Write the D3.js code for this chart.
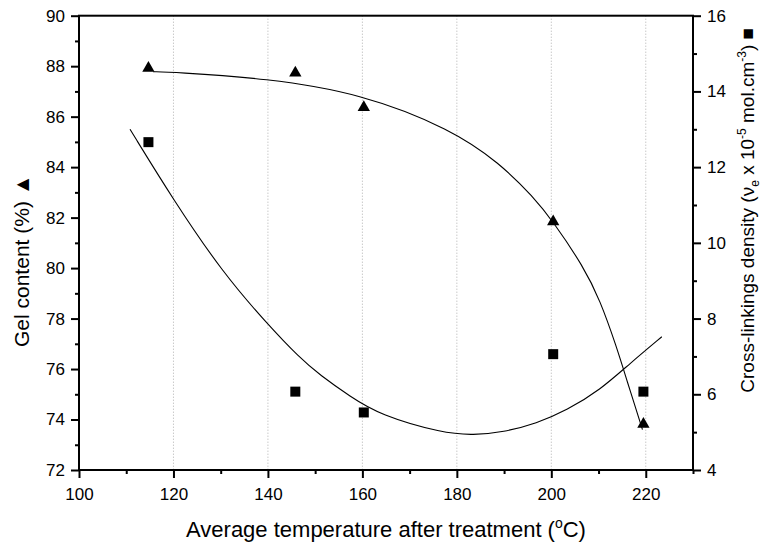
<!DOCTYPE html>
<html>
<head>
<meta charset="utf-8">
<script src="https://cdn.jsdelivr.net/npm/d3@7"></script>
<style>
  html, body { margin: 0; padding: 0; background: #fff; }
  svg { display: block; font-family: "Liberation Sans", Arial, sans-serif; }
</style>
</head>
<body>
<svg id="chart" width="768" height="549"></svg>
<script>
// ---- data ----
const temperatures = [114.7, 145.8, 160.3, 200.4, 219.5];
const gelContent = [87.92, 87.73, 86.37, 81.84, 73.82];
const crossLinkDensity = [12.66, 6.07, 5.52, 7.06, 6.07];

// fitted curves
const gelFitX = [115.7, 119.9, 139.7, 159.5, 178.9, 189.1, 196.2, 200.4, 206.8, 210.3, 213.8, 216.0, 219.3];
const gelFitY = [87.78, 87.76, 87.52, 86.93, 85.50, 84.15, 82.82, 81.84, 80.06, 78.74, 76.89, 75.55, 73.6];

const densFitX = [110.8, 120, 130.5, 139.7, 146.8, 151, 157.4, 163.7, 177.1, 183.5, 189.8, 196.9, 203.3, 210.3, 216.7, 223.4];
const densFitY = [13.0, 11.13, 9.2, 7.88, 6.95, 6.51, 5.94, 5.45, 4.97, 4.92, 5.0, 5.23, 5.58, 6.11, 6.82, 7.52];

const xMajorTicks = [100, 120, 140, 160, 180, 200, 220];
const xMinorTicks = [110, 130, 150, 170, 190, 210, 230];
const xGridTicks = [120, 140, 160, 180, 200, 220];
const leftMajorTicks = [72, 74, 76, 78, 80, 82, 84, 86, 88, 90];
const leftMinorTicks = [73, 75, 77, 79, 81, 83, 85, 87, 89];
const rightMajorTicks = [4, 6, 8, 10, 12, 14, 16];
const rightMinorTicks = [5, 7, 9, 11, 13, 15];

// ---- layout ----
const L = 79, R = 693, T = 15.7, B = 470;
const svg = d3.select("#chart");

const x = d3.scaleLinear().domain([100, 230]).range([L, R]);
const yL = d3.scaleLinear().domain([72, 90]).range([B, T]);
const yR = d3.scaleLinear().domain([4, 16]).range([B, T]);

// gridlines
svg.append("g").selectAll("line").data(xGridTicks).join("line")
  .attr("x1", d => x(d)).attr("x2", d => x(d))
  .attr("y1", T).attr("y2", B)
  .attr("stroke", "#b0b0b0").attr("stroke-width", 1)
  .attr("stroke-dasharray", "1,2");

function styleAxis(g) {
  g.select(".domain").remove();
  g.selectAll(".tick line").attr("stroke", "#000").attr("stroke-width", 2);
  g.selectAll(".tick text").attr("font-size", 17).attr("fill", "#000")
    .attr("font-family", "'Liberation Sans', Arial, sans-serif");
}

// bottom axis
svg.append("g").attr("transform", `translate(0,${B})`)
  .call(d3.axisBottom(x).tickValues(xMajorTicks).tickSize(8).tickPadding(10).tickFormat(d3.format("d")))
  .call(styleAxis);
svg.append("g").attr("transform", `translate(0,${B})`)
  .call(d3.axisBottom(x).tickValues(xMinorTicks).tickSize(4).tickFormat(""))
  .call(styleAxis);

// left axis
svg.append("g").attr("transform", `translate(${L},0)`)
  .call(d3.axisLeft(yL).tickValues(leftMajorTicks).tickSize(8).tickPadding(6).tickFormat(d3.format("d")))
  .call(styleAxis);
svg.append("g").attr("transform", `translate(${L},0)`)
  .call(d3.axisLeft(yL).tickValues(leftMinorTicks).tickSize(4).tickFormat(""))
  .call(styleAxis);

// right axis
svg.append("g").attr("transform", `translate(${R},0)`)
  .call(d3.axisRight(yR).tickValues(rightMajorTicks).tickSize(8).tickPadding(6).tickFormat(d3.format("d")))
  .call(styleAxis);
svg.append("g").attr("transform", `translate(${R},0)`)
  .call(d3.axisRight(yR).tickValues(rightMinorTicks).tickSize(4).tickFormat(""))
  .call(styleAxis);

// frame
svg.append("rect").attr("x", L).attr("y", T).attr("width", R - L).attr("height", B - T)
  .attr("fill", "none").attr("stroke", "#000").attr("stroke-width", 2);

// fitted curves
const gelLine = d3.line().x(d => x(d[0])).y(d => yL(d[1])).curve(d3.curveBasis);
const densLine = d3.line().x(d => x(d[0])).y(d => yR(d[1])).curve(d3.curveBasis);

svg.append("path").datum(d3.zip(gelFitX, gelFitY))
  .attr("d", gelLine).attr("fill", "none").attr("stroke", "#000").attr("stroke-width", 1.1);
svg.append("path").datum(d3.zip(densFitX, densFitY))
  .attr("d", densLine).attr("fill", "none").attr("stroke", "#000").attr("stroke-width", 1.1);

// markers
const tri = d3.symbol().type(d3.symbolTriangle).size(66);
const sq = d3.symbol().type(d3.symbolSquare).size(100);

svg.append("g").selectAll("path").data(d3.zip(temperatures, gelContent)).join("path")
  .attr("d", tri).attr("transform", d => `translate(${x(d[0])},${yL(d[1])})`).attr("fill", "#000");
svg.append("g").selectAll("path").data(d3.zip(temperatures, crossLinkDensity)).join("path")
  .attr("d", sq).attr("transform", d => `translate(${x(d[0])},${yR(d[1])})`).attr("fill", "#000");

// axis titles
const xt = svg.append("text").attr("x", (L + R) / 2).attr("y", 537)
  .attr("text-anchor", "middle").attr("font-size", 22).attr("fill", "#000");
xt.append("tspan").text("Average temperature after treatment (");
xt.append("tspan").attr("font-size", 14).attr("dy", -9).text("o");
xt.append("tspan").attr("dy", 9).text("C)");

const lt = svg.append("text").attr("transform", "translate(29,347) rotate(-90)")
  .attr("text-anchor", "start").attr("font-size", 21).attr("fill", "#000");
lt.append("tspan").text("Gel content (%) ");
lt.append("tspan").text("▲");

const rt = svg.append("text").attr("transform", "translate(754,28) rotate(-90)")
  .attr("text-anchor", "end").attr("font-size", 19).attr("fill", "#000");
rt.append("tspan").text("Cross-linkings density (ν");
rt.append("tspan").attr("font-size", 12).attr("dy", 5).text("e");
rt.append("tspan").attr("dy", -5).text(" x 10");
rt.append("tspan").attr("font-size", 12).attr("dy", -8).text("-5");
rt.append("tspan").attr("dy", 8).text(" mol.cm");
rt.append("tspan").attr("font-size", 12).attr("dy", -8).text("-3");
rt.append("tspan").attr("dy", 8).text(") ");
rt.append("tspan").text("■");
</script>
</body>
</html>
